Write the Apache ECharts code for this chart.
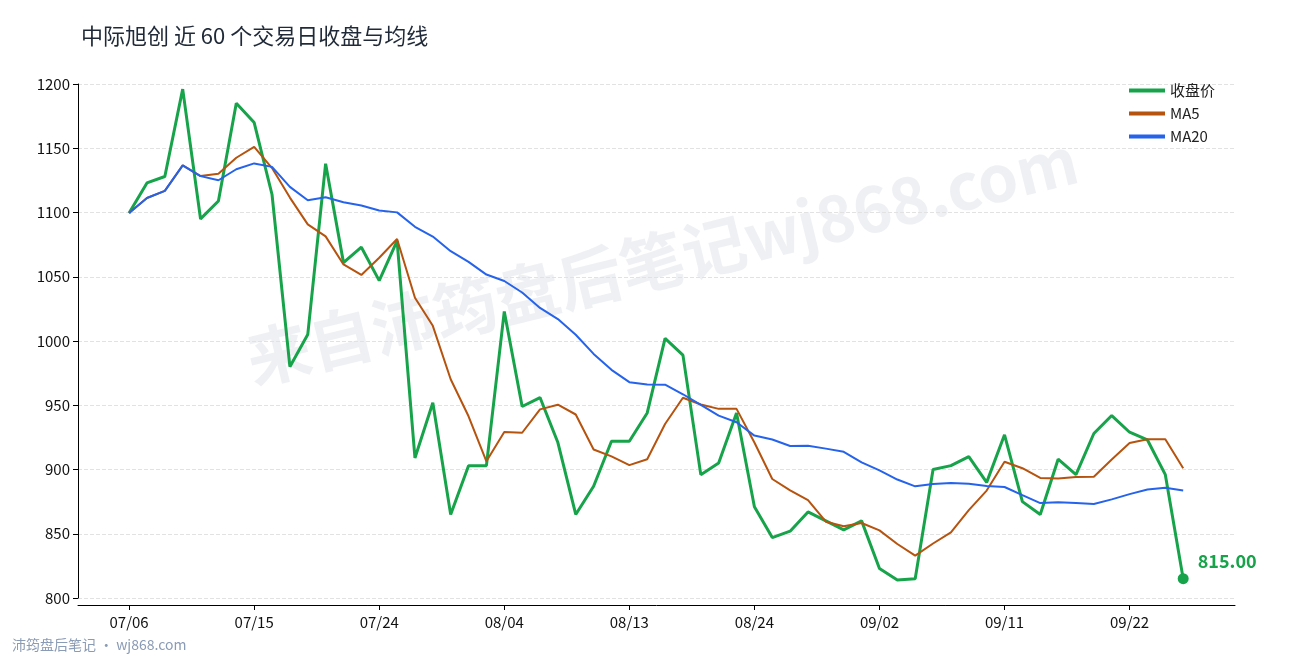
<!DOCTYPE html>
<html><head><meta charset="utf-8">
<script src="https://cdn.jsdelivr.net/npm/echarts@6/dist/echarts.min.js"></script>
<style>html,body{margin:0;padding:0;background:#fff}#c{width:1290px;height:660px}</style>
</head><body><div id="c"></div>
<script>
const dates = ['07/06','07/07','07/08','07/11','07/12','07/13','07/14','07/15','07/18','07/19','07/20','07/21','07/22','07/23','07/24','07/25','07/26','07/27','07/30','07/31','08/03','08/04','08/05','08/06','08/07','08/10','08/11','08/12','08/13','08/14','08/17','08/18','08/19','08/20','08/21','08/24','08/25','08/26','08/27','08/28','08/31','09/01','09/02','09/03','09/04','09/07','09/08','09/09','09/10','09/11','09/14','09/15','09/16','09/17','09/18','09/21','09/22','09/23','09/24','09/25'];
const closes = [1099.6,1123,1128,1196,1095,1109,1185,1170,1114,980,1005,1138,1061,1073,1047,1078,909,952,865,903,903,1023,949,956,921,865,887,922,922,944,1002,989,896,905,944,871,847,852,867,860,853,860,823,814,815,900,903,910,890,927,875,865,908,896,928,942,929,923,896,815];
const tickIdx = [0,7,14,21,28,35,42,49,56];

function ma(n){return closes.map((v,i)=>{const s=closes.slice(Math.max(0,i-n+1),i+1);return [i,+(s.reduce((a,b)=>a+b,0)/s.length).toFixed(2)];});}
const closeData = closes.map((v,i)=>[i,v]);
const F='"Noto Sans CJK SC","Noto Sans",sans-serif';
const chart = echarts.init(document.getElementById('c'));
chart.setOption({
  animation:false,
  textStyle:{fontFamily:F},
  title:{text:'中际旭创 近 60 个交易日收盘与均线',left:76,top:20,textStyle:{fontSize:22,fontWeight:'normal',color:'#1f2937',fontFamily:F}},
  graphic:[
    {type:'text',x:240,y:330,rotation:0.24,style:{text:'来自沛筠盘后笔记wj868.com',font:'bold 64px '+F,fill:'rgba(120,130,160,0.12)'},z:-1},
    {type:'text',left:12,top:638,style:{text:'沛筠盘后笔记 · wj868.com',font:'14px '+F,fill:'#8a9bb5'}}
  ],
  legend:{orient:'vertical',right:70,top:78,itemWidth:36,itemHeight:4,itemGap:8,textStyle:{fontSize:15,color:'#222',fontFamily:F},
    data:[{name:'收盘价',icon:'rect'},{name:'MA5',icon:'rect'},{name:'MA20',icon:'rect'}]},
  grid:{left:78,right:55,top:84,bottom:62},
  xAxis:{type:'value',min:-2.86,max:61.9,offset:7,
    axisLine:{onZero:false,lineStyle:{color:'#000'}},
    axisTick:{customValues:tickIdx,lineStyle:{color:'#000'}},
    axisLabel:{customValues:tickIdx,formatter:v=>dates[Math.round(v)],fontSize:15,color:'#111',margin:10},
    splitLine:{show:false}},
  yAxis:{type:'value',min:800,max:1200,interval:50,
    axisLine:{show:true,onZero:false,lineStyle:{color:'#000'}},axisTick:{show:true,lineStyle:{color:'#000'}},
    axisLabel:{fontSize:15,color:'#111',formatter:v=>String(v)},
    splitLine:{lineStyle:{type:'dashed',color:'#e2e2e2'}}},
  series:[
    {name:'收盘价',type:'line',data:closeData,symbol:'none',lineStyle:{width:3,color:'#17a34a'},itemStyle:{color:'#17a34a'},z:3,
     markPoint:{symbol:'circle',symbolSize:11,data:[{coord:[59,815],value:815}],itemStyle:{color:'#17a34a'},
       label:{show:true,position:'right',offset:[4,-18],formatter:'815.00',color:'#17a34a',fontSize:18,fontWeight:'bold'}}},
    {name:'MA5',type:'line',data:ma(5),symbol:'none',lineStyle:{width:2,color:'#b5530f'},itemStyle:{color:'#b5530f'}},
    {name:'MA20',type:'line',data:ma(20),symbol:'none',lineStyle:{width:2,color:'#2563eb'},itemStyle:{color:'#2563eb'}}
  ]
});
</script></body></html>
